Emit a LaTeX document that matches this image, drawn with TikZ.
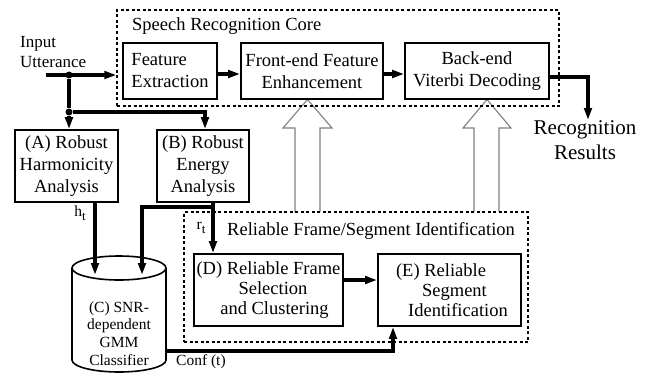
\documentclass[tikz,border=0pt]{standalone}
\usepackage{fontspec}
\setmainfont{Liberation Serif}
\usetikzlibrary{arrows.meta}
\begin{document}
\begin{tikzpicture}[x=1pt,y=-1pt,
  box/.style={draw, line width=1.7pt, align=center, inner sep=0pt,
              font=\fontsize{18.5}{22}\selectfont},
  tightbox/.style={box, font=\fontsize{18.5}{20}\selectfont},
  region/.style={draw, line width=1.2pt, dash pattern=on 3pt off 2.5pt, inner sep=0pt},
  flow/.style={line width=3.2pt, -{Triangle[length=12pt,width=7.5pt]}},
  link/.style={line width=3.2pt},
  hollow/.style={draw=gray, fill=white, line width=1.1pt, line join=miter},
  dot/.style={circle, fill, inner sep=0pt, minimum size=7pt},
  lbl/.style={font=\fontsize{18.5}{22}\selectfont, inner sep=0pt},
  small/.style={font=\fontsize{15.5}{17.7}\selectfont, inner sep=0pt}]
\useasboundingbox (0,0) rectangle (647,372);

% hollow feedback arrows (drawn first, the region borders run over them)
\draw[hollow] (295,212) -- (295,128) -- (283,128) -- (307.5,99.5) -- (332,128)
  -- (320,128) -- (320,212);
\draw[hollow] (474,212) -- (474,128) -- (463,128) -- (487,99.5) -- (511,128)
  -- (499,128) -- (499,212);

% dashed regions
\node[region, minimum width=442pt, minimum height=96pt] (core) at (338,58) {};
\node[region, minimum width=344pt, minimum height=130pt] (rel) at (356,277) {};
\node[lbl, anchor=base west] (coret) at (132,30.5) {Speech Recognition Core};
\node[lbl, anchor=base west] (relt) at (227,235) {Reliable Frame/Segment Identification};

% recognition core stages
\node[box, fill=white, align=left, minimum width=94pt, minimum height=56pt] (fe) at (170,71) {Feature\\Extraction};
\node[box, fill=white, minimum width=142pt, minimum height=56pt] (fr) at (312,71) {Front-end Feature\\Enhancement};
\node[box, fill=white, minimum width=144pt, minimum height=56pt] (bd) at (477,71) {Back-end\\Viterbi Decoding};

% analysis stages
\node[box, minimum width=103pt, minimum height=72pt] (ha) at (66.5,166) {(A) Robust\\Harmonicity\\Analysis};
\node[box, minimum width=92pt, minimum height=72pt] (en) at (203,166) {(B) Robust\\Energy\\Analysis};

% reliable frame / segment stages
\node[tightbox, minimum width=149pt, minimum height=72pt] (rf) at (268.5,290)
  {(D) Reliable Frame\\\mbox{\kern9pt Selection}\\\mbox{\kern12pt and Clustering}};
\node[tightbox, minimum width=143pt, minimum height=72pt] (rs) at (449.5,290)
  {\mbox{(E) Reliable\kern17pt}\\\mbox{\kern10pt Segment}\\\mbox{\kern17pt Identification}};

% SNR-dependent GMM classifier (cylinder)
\draw[line width=1.6pt] (72,268) -- (72,360)
  arc[start angle=180, end angle=360, x radius=47pt, y radius=12pt] -- (166,268);
\draw[line width=1.6pt] (119,268) ellipse [x radius=47pt, y radius=12pt];
\node[small, align=center] (gmm) at (119,333.5) {(C) SNR-\\dependent\\GMM\\Classifier};

% texts outside boxes
\node[font=\fontsize{17}{20}\selectfont, inner sep=0pt, align=left, anchor=west] (utt) at (20,52) {Input\\Utterance};
\node[font=\fontsize{21}{25}\selectfont, inner sep=0pt, align=center, anchor=north] (res) at (585,120) {Recognition\\Results};
\node[small] (ht) at (80,213) {h\raisebox{-4pt}{\fontsize{13}{15}\selectfont t}};
\node[small] (rt) at (201,228) {r\raisebox{-4pt}{\fontsize{13}{15}\selectfont t}};
\node[small, anchor=west] (conf) at (176,362) {Conf (t)};

% input distribution
\coordinate (in) at (46,75);
\node[dot] (j1) at (69,75) {};
\node[dot] (j2) at (69,112) {};
\draw[flow] (in) -- (in -| core.west);
\draw[link] (j1) -- (j2);
\draw[flow] (j2) -- (j2 |- ha.north);
\draw[flow] (j2) -| ([xshift=2pt]en.north);

% core pipeline
\draw[flow] ([yshift=-3pt]fe.east) -- ([yshift=-3pt]fr.west);
\draw[flow] ([yshift=-3pt]fr.east) -- ([yshift=-3pt]bd.west);
\draw[flow] ([yshift=-6pt]bd.east) -| ([xshift=3pt]res.north);

% features into the classifier
\coordinate (cin1) at (95,275);
\coordinate (cin2) at (142,275);
\coordinate (bj) at (213,207);
\draw[flow] ([xshift=28.5pt]ha.south) -- (cin1);
\draw[link] ([xshift=10pt]en.south) -- (bj);
\draw[flow] (bj) -| (cin2);
\draw[flow] (bj) -- (bj |- rf.north);

% reliable identification
\draw[flow] ([yshift=10pt]rf.east) -- ([yshift=10pt]rs.west);
\coordinate (cout) at (166,351);
\draw[flow] (cout) -| ([xshift=-56.5pt]rs.south);
\end{tikzpicture}
\end{document}
